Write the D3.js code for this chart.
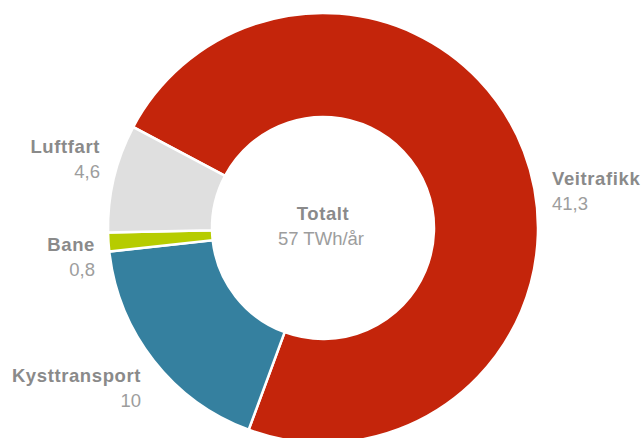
<!DOCTYPE html>
<html><head><meta charset="utf-8">
<script src="https://cdn.jsdelivr.net/npm/d3@7"></script>
<style>
html,body{margin:0;padding:0;background:#fff;overflow:hidden;}
text{font-family:"Liberation Sans",Arial,Helvetica,sans-serif;}
</style></head>
<body>
<svg id="chart" width="642" height="438"></svg>
<script>
const categories = ["Veitrafikk", "Kysttransport", "Bane", "Luftfart"];
const values = [41.3, 10, 0.8, 4.6];
const valueLabels = ["41,3", "10", "0,8", "4,6"];
const colors = ["#c4250b", "#35809f", "#b6cc00", "#dfdfdf"];
const totalTitle = "Totalt";
const totalValue = "57 TWh/år";

// label layout (x, baseline y, anchor)
const labelLayout = [
  {x: 552, y: 185, anchor: "start"},
  {x: 141, y: 382, anchor: "end"},
  {x: 95, y: 251, anchor: "end"},
  {x: 100, y: 153, anchor: "end"}
];

const W = 642, H = 438;
const cx = 323, cy = 228, outerR = 215, innerR = 111;
const svg = d3.select("#chart");
const g = svg.append("g").attr("transform", `translate(${cx},${cy})`);

const startA = -62 * Math.PI / 180;
const pie = d3.pie().sort(null).startAngle(startA).endAngle(startA + 2 * Math.PI);
const arcs = pie(values);
const arc = d3.arc().innerRadius(innerR).outerRadius(outerR);

g.selectAll("path.slice").data(arcs).join("path")
  .attr("class", "slice")
  .attr("d", arc)
  .attr("fill", (d, i) => colors[i])
  .attr("stroke", "#fff")
  .attr("stroke-width", 2.5)
  .attr("stroke-linejoin", "miter");

const lab = svg.selectAll("g.lab").data(categories).join("g").attr("class", "lab");
lab.append("text")
  .attr("x", (d, i) => labelLayout[i].x)
  .attr("y", (d, i) => labelLayout[i].y)
  .attr("text-anchor", (d, i) => labelLayout[i].anchor)
  .attr("font-size", 18.5).attr("font-weight", "bold").attr("fill", "#8a8a8a")
  .attr("letter-spacing", 0.6)
  .text(d => d);
lab.append("text")
  .attr("x", (d, i) => labelLayout[i].x)
  .attr("y", (d, i) => labelLayout[i].y + 24.5)
  .attr("text-anchor", (d, i) => labelLayout[i].anchor)
  .attr("font-size", 18.5).attr("fill", "#9d9d9d")
  .text((d, i) => valueLabels[i]);

svg.append("text").attr("x", cx).attr("y", 220).attr("text-anchor", "middle")
  .attr("font-size", 18.5).attr("font-weight", "bold").attr("fill", "#8a8a8a")
  .attr("letter-spacing", 0.6).text(totalTitle);
svg.append("text").attr("x", cx - 2).attr("y", 245).attr("text-anchor", "middle")
  .attr("font-size", 18.5).attr("fill", "#9d9d9d").text(totalValue);
</script>
</body></html>
